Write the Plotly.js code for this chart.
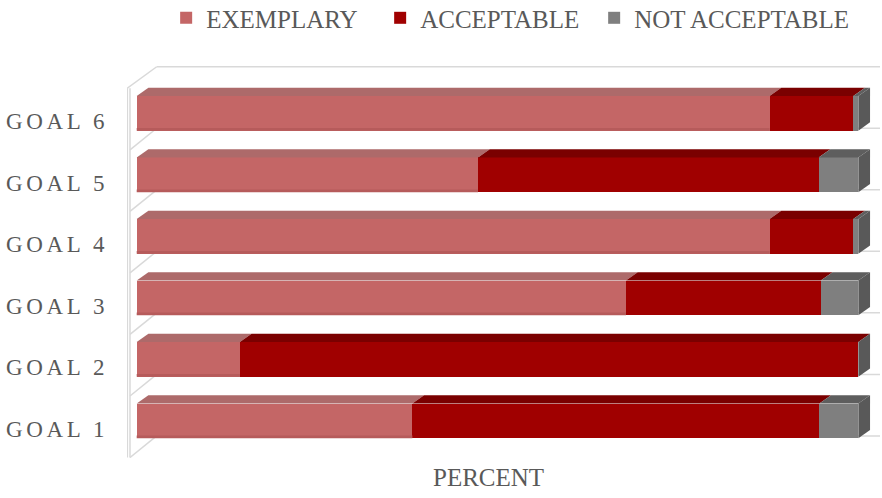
<!DOCTYPE html>
<html>
<head>
<meta charset="utf-8">
<script src="https://cdn.plot.ly/plotly-3.0.1.min.js"></script>
<style>
  html, body { margin: 0; padding: 0; background: #fff; }
  #chart { width: 882px; height: 498px; }
  .ytick text { letter-spacing: 3.6px; }
</style>
</head>
<body>
<div id="chart"></div>
<script>
// ---- data ----
const categories = ['GOAL 1', 'GOAL 2', 'GOAL 3', 'GOAL 4', 'GOAL 5', 'GOAL 6'];
const exemplary = [38.2, 14.3, 67.8, 87.7, 47.3, 87.7];
const acceptable = [56.4, 85.7, 27.0, 11.6, 47.2, 11.6];
const notAcceptable = [5.4, 0, 5.2, 0.7, 5.5, 0.7];
const seriesNames = ['EXEMPLARY', 'ACCEPTABLE', 'NOT ACCEPTABLE'];
const axisTitle = 'PERCENT';

// ---- styles ----
const frontColors = ['#C46666', '#A00000', '#7F7F7F'];
const topColors = ['#AD6A6A', '#7A0000', '#5E5E5E'];
const bottomStrip = ['#B65B5B', null, null];
const sideColor = '#595959';
const wallColor = '#D9D9D9';
const textColor = '#595959';
const FONT = '"Liberation Serif", "Times New Roman", serif';

// geometry (axis units)
const BAR_W = 0.564;      // front-face height
const DEPTH_X = 1.62;     // 3D depth offset in x
const DEPTH_Y = 0.135;    // 3D depth offset in y
const STRIP_H = 0.045;
const X_RANGE = [-1.344, 103.0];
const Y_RANGE = [-0.602, 5.769];
const LABEL_SHIFT = 0.13;
const WALL_IN = -0.93, WALL_BACK_X = 2.77;
const WALL_FRONT_TOP = 5.406, WALL_BACK_TOP = 5.757;
const LEGEND_ENTRY_W = [169, 169, 240];

const pos = categories.map((c, i) => i);
const series = [exemplary, acceptable, notAcceptable];

const traces = series.map((vals, s) => ({
  type: 'bar',
  orientation: 'h',
  name: seriesNames[s],
  y: pos,
  x: vals,
  width: BAR_W,
  legendwidth: LEGEND_ENTRY_W[s],
  marker: { color: frontColors[s], line: { width: 0 } },
  hovertemplate: '%{x}%<extra>' + seriesNames[s] + '</extra>'
}));

const shapes = [];
// back wall gridlines and top edge, plus side-wall diagonals
for (let k = 0; k <= categories.length; k++) {
  const yb = WALL_BACK_TOP - k;
  shapes.push({ type: 'line', layer: 'below', xref: 'x', yref: 'y',
    x0: WALL_BACK_X, x1: X_RANGE[1], y0: yb, y1: yb,
    line: { color: wallColor, width: 1.5 } });
  const yf = WALL_FRONT_TOP - k;
  shapes.push({ type: 'line', layer: 'below', xref: 'x', yref: 'y',
    x0: k === 0 ? X_RANGE[0] : WALL_IN, x1: WALL_BACK_X, y0: yf, y1: yb,
    line: { color: wallColor, width: 1.5 } });
}
// side wall front edges
[X_RANGE[0] + 0.05, WALL_IN].forEach(xw => {
  shapes.push({ type: 'line', layer: 'below', xref: 'x', yref: 'y',
    x0: xw, x1: xw, y0: WALL_FRONT_TOP - categories.length, y1: WALL_FRONT_TOP,
    line: { color: wallColor, width: 1.5 } });
});

// 3D top faces and side face computed from the stacked data
pos.forEach((p, i) => {
  let start = 0;
  const yTop = p + BAR_W / 2;
  const yBot = p - BAR_W / 2;
  series.forEach((vals, s) => {
    const end = start + vals[i];
    if (vals[i] > 0) {
      shapes.push({ type: 'path', layer: 'above', xref: 'x', yref: 'y',
        path: `M ${start},${yTop} L ${end},${yTop} L ${end + DEPTH_X},${yTop + DEPTH_Y} L ${start + DEPTH_X},${yTop + DEPTH_Y} Z`,
        fillcolor: topColors[s], line: { width: 0 } });
      if (bottomStrip[s]) {
        shapes.push({ type: 'rect', layer: 'above', xref: 'x', yref: 'y',
          x0: start, x1: end, y0: yBot, y1: yBot + STRIP_H,
          fillcolor: bottomStrip[s], line: { width: 0 } });
      }
    }
    start = end;
  });
  shapes.push({ type: 'path', layer: 'above', xref: 'x', yref: 'y',
    path: `M ${start},${yBot} L ${start},${yTop} L ${start + DEPTH_X},${yTop + DEPTH_Y} L ${start + DEPTH_X},${yBot + DEPTH_Y} Z`,
    fillcolor: sideColor, line: { width: 0 } });
});

const layout = {
  width: 882, height: 498,
  margin: { l: 127, r: 2, t: 66, b: 40, pad: 0, autoexpand: false },
  paper_bgcolor: '#fff', plot_bgcolor: 'rgba(0,0,0,0)',
  barmode: 'stack',
  showlegend: true,
  legend: {
    orientation: 'h', traceorder: 'normal',
    x: 0.052, xanchor: 'left', y: 1.181, yanchor: 'top',
    font: { family: FONT, size: 25, color: textColor },
    entrywidthmode: 'pixels',
    bgcolor: 'rgba(0,0,0,0)'
  },
  xaxis: {
    range: X_RANGE, showgrid: false, zeroline: false, showline: false,
    showticklabels: false, ticks: '', fixedrange: true
  },
  yaxis: {
    range: Y_RANGE, showgrid: false, zeroline: false, showline: false,
    tickmode: 'array', tickvals: pos.map(p => p - LABEL_SHIFT), ticktext: categories,
    ticks: '', ticklabelstandoff: 18,
    tickfont: { family: FONT, size: 23, color: textColor }, fixedrange: true
  },
  annotations: [{
    text: axisTitle, xref: 'paper', yref: 'paper', x: 0.48, y: -0.05,
    xanchor: 'center', yanchor: 'middle', showarrow: false,
    font: { family: FONT, size: 25, color: textColor }
  }],
  shapes: shapes
};

Plotly.newPlot('chart', traces, layout, { displayModeBar: false, staticPlot: true });
</script>
</body>
</html>
